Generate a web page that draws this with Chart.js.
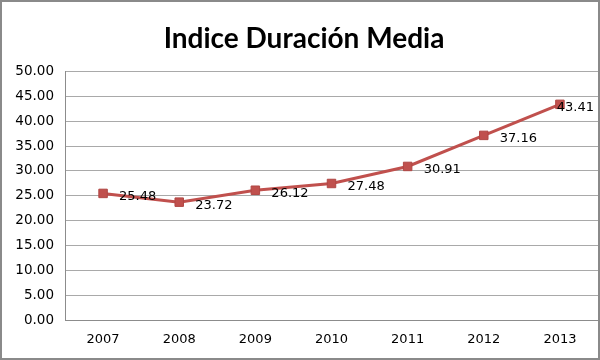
<!DOCTYPE html>
<html>
<head>
<meta charset="utf-8">
<script src="https://cdn.jsdelivr.net/npm/chart.js@4/dist/chart.umd.min.js"></script>
<style>
  html, body { margin: 0; padding: 0; background: #fff; }
  #wrap { position: relative; width: 600px; height: 360px; box-sizing: border-box; border: 2px solid #8a8a8a; background: #fff; }
  #c { position: absolute; left: 0; top: 0; }
</style>
</head>
<body>
<div id="wrap"><canvas id="c" width="596" height="356"></canvas></div>
<script>
const titleText = "Indice Duración Media";
const categories = ["2007", "2008", "2009", "2010", "2011", "2012", "2013"];
const values = [25.48, 23.72, 26.12, 27.48, 30.91, 37.16, 43.41];
const yMin = 0, yMax = 50, yStep = 5;

const lineColor = "#C0504D";

const dataLabels = {
  id: "dataLabels",
  afterDatasetsDraw(chart) {
    const ctx = chart.ctx;
    const meta = chart.getDatasetMeta(0);
    const right = chart.chartArea.right;
    ctx.save();
    ctx.font = "13px 'DejaVu Sans'";
    ctx.fillStyle = "#000";
    ctx.textAlign = "left";
    ctx.textBaseline = "middle";
    meta.data.forEach((pt, i) => {
      const txt = values[i].toFixed(2);
      const w = ctx.measureText(txt).width;
      const x = Math.min(pt.x + 16, right - 4 - w);
      ctx.fillText(txt, x, pt.y + 3);
    });
    ctx.restore();
  }
};

new Chart(document.getElementById("c"), {
  type: "line",
  data: {
    labels: categories,
    datasets: [{
      data: values,
      borderColor: lineColor,
      backgroundColor: lineColor,
      borderWidth: 3,
      pointStyle: "rect",
      pointRadius: 6,
      pointBorderWidth: 1,
      pointBorderColor: "#b04744",
      pointBackgroundColor: lineColor,
      tension: 0,
      fill: false,
      clip: false
    }]
  },
  options: {
    responsive: false,
    animation: false,
    layout: { autoPadding: false, padding: { left: 8, right: 0, top: 0, bottom: 0 } },
    plugins: {
      legend: { display: false },
      tooltip: { enabled: false },
      title: {
        display: true,
        text: titleText,
        color: "#000",
        font: { family: "Lato", size: 28, weight: "bold", lineHeight: 1.2 },
        padding: { top: 20, bottom: 16 }
      }
    },
    scales: {
      x: {
        offset: true,
        grid: { display: false, drawTicks: false },
        border: { display: true, color: "#8c8c8c", width: 1 },
        ticks: { color: "#000", font: { family: "'DejaVu Sans'", size: 13 }, padding: 12, maxRotation: 0 },
        afterFit(s) { s.height = 38; s.paddingRight = 0; s.paddingLeft = 0; }
      },
      y: {
        min: yMin, max: yMax,
        grid: { color: "#a9a9a9", lineWidth: 1, drawTicks: false },
        border: { display: true, color: "#8c8c8c", width: 1 },
        ticks: {
          stepSize: yStep,
          color: "#000",
          font: { family: "'DejaVu Sans'", size: 13.5 },
          padding: 11,
          callback: v => Number(v).toFixed(2)
        },
        afterFit(s) { s.width = 55; }
      }
    }
  },
  plugins: [dataLabels]
});
</script>
</body>
</html>
